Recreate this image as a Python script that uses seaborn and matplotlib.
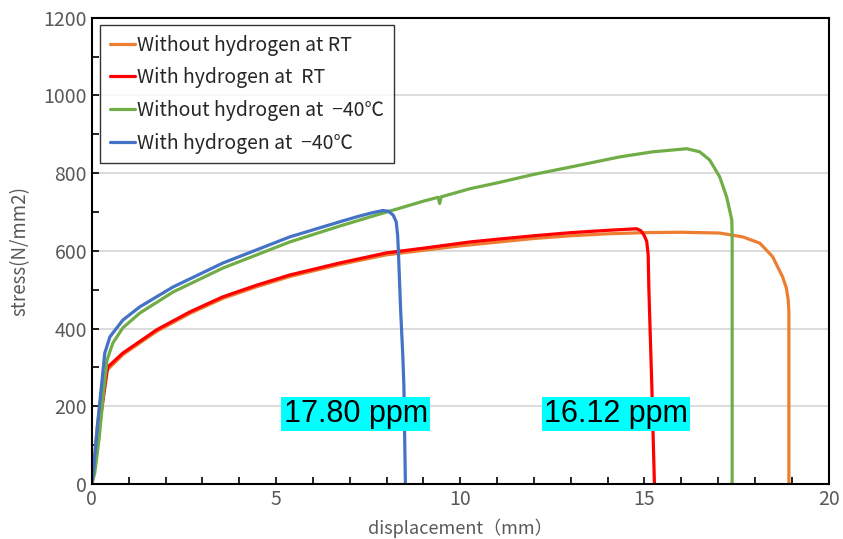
import pandas as pd
import matplotlib
matplotlib.use('Agg')
import matplotlib.pyplot as plt
from matplotlib.ticker import MultipleLocator
import seaborn as sns

sns.set_style('white')
plt.rcParams['font.family'] = ['Noto Sans CJK JP', 'DejaVu Sans']

# 데이터
rt_no_h_x = [0, 0.05, 0.15, 0.3, 0.4, 0.84, 1.76, 2.66, 3.56, 4.48, 5.37, 6.73, 8, 10, 12,
             13, 14, 15, 16, 17.04, 17.67, 18.13, 18.48, 18.75, 18.85, 18.9, 18.92, 18.92]
rt_no_h_y = [0, 50, 150, 265, 292, 333, 393, 439, 478, 508, 534, 565, 590, 613, 632,
             639, 644, 647, 648, 646, 636, 620, 585, 533, 505, 475, 445, 0]

rt_h_x = [0, 0.1, 0.25, 0.43, 0.84, 1.76, 2.66, 3.56, 4.48, 5.37, 6.73, 8, 9, 10.26, 11,
          12, 13, 14, 14.79, 14.9, 14.98, 15.06, 15.1, 15.12, 15.2, 15.27]
rt_h_y = [0, 55, 180, 301, 337, 397, 443, 482, 512, 538, 569, 595, 607, 623, 630,
          639, 647, 653, 657, 652, 642, 625, 590, 500, 250, 0]

m40_no_h_x = [0, 0.08, 0.2, 0.3, 0.41, 0.57, 0.84, 1.3, 2.2, 3.56, 4.48, 5.37, 6.73, 7.5, 8,
              9, 9.4, 9.44, 9.48, 10.26, 11, 12, 13, 14.33, 15.22, 16.15, 16.5, 16.77, 17.04,
              17.23, 17.37, 17.38, 17.38]
m40_no_h_y = [0, 30, 120, 220, 319, 363, 402, 440, 494, 556, 590, 623, 664, 686, 700,
              728, 738, 722, 739, 760, 775, 797, 816, 842, 855, 863, 855, 834, 791,
              739, 680, 636, 0]

m40_h_x = [0, 0.05, 0.15, 0.35, 0.49, 0.84, 1.3, 2.2, 3.56, 4.48, 5.37, 6.73, 7.2, 7.6, 7.9,
           8.05, 8.18, 8.26, 8.3, 8.32, 8.38, 8.44, 8.47, 8.51]
m40_h_y = [0, 40, 150, 337, 379, 422, 456, 507, 569, 603, 636, 675, 688, 698, 704,
           702, 692, 675, 640, 600, 450, 330, 250, 0]

series = [
    ('Without hydrogen at RT', rt_no_h_x, rt_no_h_y, '#ED7D31'),
    ('With hydrogen at  RT', rt_h_x, rt_h_y, '#FF0000'),
    ('Without hydrogen at  −40℃', m40_no_h_x, m40_no_h_y, '#70AD47'),
    ('With hydrogen at  −40℃', m40_h_x, m40_h_y, '#4472C4'),
]

# 수소 농도 표시
ppm_labels = ['17.80 ppm', '16.12 ppm']
ppm_x = [7.16, 14.22]
ppm_y = [180, 180]

fig = plt.figure(figsize=(8.43, 5.39), dpi=100)
ax = fig.add_axes([0.109, 0.102, 0.874, 0.865])

for label, xs, ys, color in series:
    sns.lineplot(x=xs, y=ys, sort=False, estimator=None, color=color,
                 linewidth=2.3, label=label, ax=ax)

for txt, tx, ty in zip(ppm_labels, ppm_x, ppm_y):
    ax.text(tx, ty, txt, ha='center', va='center', fontsize=22,
            family='Liberation Sans', color='black',
            bbox=dict(facecolor='#00FFFF', edgecolor='none', pad=1.5))

ax.set_xlim(0, 20)
ax.set_ylim(0, 1200)
ax.xaxis.set_major_locator(MultipleLocator(5))
ax.xaxis.set_minor_locator(MultipleLocator(1))
ax.yaxis.set_major_locator(MultipleLocator(200))
ax.yaxis.set_minor_locator(MultipleLocator(100))
ax.tick_params(which='both', direction='in', length=5, width=1.2, color='black',
               labelcolor='#595959', labelsize=14)
ax.tick_params(which='both', top=False, right=False, bottom=True, left=True)
ax.grid(axis='y', which='major', color='#D9D9D9', linewidth=1.3)
ax.set_axisbelow(True)
for sp in ax.spines.values():
    sp.set_color('black')
    sp.set_linewidth(1.5)

ax.set_xlabel('displacement（mm）', color='#595959', fontsize=13, labelpad=6)
ax.set_ylabel('stress(N/mm2)', color='#595959', fontsize=13.5, labelpad=9)

leg = ax.legend(loc='upper left', bbox_to_anchor=(0.011, 0.985), borderaxespad=0,
                fontsize=14, handlelength=1.3, handletextpad=0.1, labelspacing=0.6,
                frameon=True, fancybox=False, edgecolor='black', borderpad=0.5)
leg.get_frame().set_linewidth(1.0)

plt.savefig('out.png', dpi=100)
